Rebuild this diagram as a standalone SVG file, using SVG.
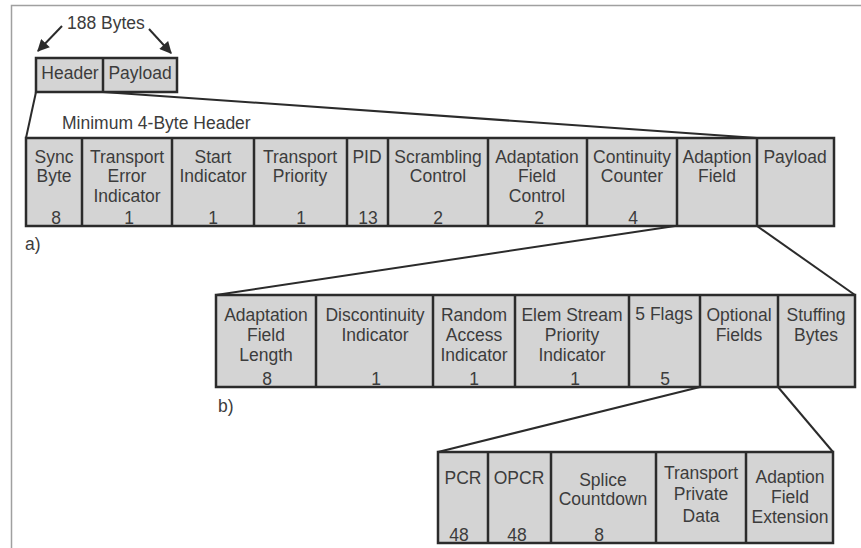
<svg xmlns="http://www.w3.org/2000/svg" width="861" height="548" viewBox="0 0 861 548">
  <style>
    .cell { fill: #d4d4d4; stroke: none; }
    .edge { fill: none; stroke: #2b2b2b; stroke-width: 2.5; }
    .wire { fill: none; stroke: #2b2b2b; stroke-width: 2; }
    text { font-family: "Liberation Sans", Arial, sans-serif; font-size: 17.5px; fill: #3c3c3c; text-anchor: middle; }
    .lbl { text-anchor: start; }
  </style>
  <defs>
    <marker id="arrow" viewBox="0 0 10 10" refX="9" refY="5" markerWidth="6.5" markerHeight="6" orient="auto-start-reverse">
      <path d="M0,0 L10,5 L0,10 z" fill="#2b2b2b"/>
    </marker>
  </defs>

  <rect width="861" height="548" fill="#ffffff"/>
  <!-- page frame -->
  <path d="M11.5,548 V5.5 H861" fill="none" stroke="#a0a0a0" stroke-width="1.5"/>

  <!-- packet size annotation -->
  <g id="packet-size">
    <text class="lbl" x="67" y="29">188 Bytes</text>
    <path class="wire" d="M62,26 L38,51" marker-end="url(#arrow)"/>
    <path class="wire" d="M149,29 L171,53" marker-end="url(#arrow)"/>
  </g>

  <!-- 188-byte packet -->
  <g id="packet">
    <rect class="cell" x="36" y="58" width="141" height="34"/>
    <text x="70" y="79">Header</text>
    <text x="140" y="79">Payload</text>
    <path class="edge" d="M36,58 H177 V92 H36 Z M103,58 V92"/>
  </g>

  <!-- connectors between levels -->
  <g id="connectors">
    <path class="wire" d="M36,92 L26,138"/>
    <path class="wire" d="M103,92 L757,138"/>
    <path class="wire" d="M675,226 L216,295"/>
    <path class="wire" d="M757,226 L855,295"/>
    <path class="wire" d="M700,387 L438,452"/>
    <path class="wire" d="M778,387 L833,452"/>
  </g>

  <!-- a) transport packet header -->
  <g id="header-fields">
    <text class="lbl" x="62" y="129">Minimum 4-Byte Header</text>
    <rect class="cell" x="26" y="138" width="808" height="88"/>
    <g id="sync-byte"><text x="54" y="163">Sync</text><text x="54" y="182">Byte</text><text x="56" y="224">8</text></g>
    <g id="transport-error"><text x="127" y="163">Transport</text><text x="127" y="182">Error</text><text x="127" y="202">Indicator</text><text x="129" y="224">1</text></g>
    <g id="start-indicator"><text x="213" y="163">Start</text><text x="213" y="182">Indicator</text><text x="213" y="224">1</text></g>
    <g id="transport-priority"><text x="300" y="163">Transport</text><text x="300" y="182">Priority</text><text x="301" y="224">1</text></g>
    <g id="pid"><text x="367" y="163">PID</text><text x="368" y="224">13</text></g>
    <g id="scrambling"><text x="438" y="163">Scrambling</text><text x="438" y="182">Control</text><text x="438" y="224">2</text></g>
    <g id="adaptation-control"><text x="537" y="163">Adaptation</text><text x="537" y="182">Field</text><text x="537" y="202">Control</text><text x="539" y="224">2</text></g>
    <g id="continuity"><text x="632" y="163">Continuity</text><text x="632" y="182">Counter</text><text x="633" y="224">4</text></g>
    <g id="adaption-field"><text x="717" y="163">Adaption</text><text x="717" y="182">Field</text></g>
    <g id="payload"><text x="795" y="163">Payload</text></g>
    <path class="edge" d="M26,138 H834 V226 H26 Z M82,138 V226 M172,138 V226 M254,138 V226 M347,138 V226 M388,138 V226 M488,138 V226 M587,138 V226 M677,138 V226 M757,138 V226"/>
    <text class="lbl" x="25" y="250">a)</text>
  </g>

  <!-- b) adaptation field -->
  <g id="adaptation-fields">
    <rect class="cell" x="216" y="295" width="639" height="92"/>
    <g id="af-length"><text x="266" y="321">Adaptation</text><text x="266" y="341">Field</text><text x="266" y="361">Length</text><text x="267" y="385">8</text></g>
    <g id="discontinuity"><text x="375" y="321">Discontinuity</text><text x="375" y="341">Indicator</text><text x="376" y="385">1</text></g>
    <g id="random-access"><text x="474" y="321">Random</text><text x="474" y="341">Access</text><text x="474" y="361">Indicator</text><text x="474" y="385">1</text></g>
    <g id="es-priority"><text x="572" y="321">Elem Stream</text><text x="572" y="341">Priority</text><text x="572" y="361">Indicator</text><text x="575" y="385">1</text></g>
    <g id="flags"><text x="664" y="320">5 Flags</text><text x="665" y="385">5</text></g>
    <g id="optional-fields"><text x="739" y="321">Optional</text><text x="739" y="341">Fields</text></g>
    <g id="stuffing"><text x="816" y="321">Stuffing</text><text x="816" y="341">Bytes</text></g>
    <path class="edge" d="M216,295 H855 V387 H216 Z M316,295 V387 M433,295 V387 M515,295 V387 M629,295 V387 M700,295 V387 M778,295 V387"/>
    <text class="lbl" x="218" y="412">b)</text>
  </g>

  <!-- optional fields -->
  <g id="optional-detail">
    <rect class="cell" x="438" y="452" width="395" height="91"/>
    <g id="pcr"><text x="463" y="484">PCR</text><text x="459" y="541">48</text></g>
    <g id="opcr"><text x="519" y="484">OPCR</text><text x="517" y="541">48</text></g>
    <g id="splice"><text x="603" y="486">Splice</text><text x="603" y="505">Countdown</text><text x="599" y="541">8</text></g>
    <g id="private-data"><text x="701" y="479">Transport</text><text x="701" y="500">Private</text><text x="701" y="522">Data</text></g>
    <g id="af-extension"><text x="790" y="483">Adaption</text><text x="790" y="503">Field</text><text x="790" y="523">Extension</text></g>
    <path class="edge" d="M438,452 H833 V543 H438 Z M488,452 V543 M551,452 V543 M656,452 V543 M746,452 V543"/>
  </g>
</svg>
